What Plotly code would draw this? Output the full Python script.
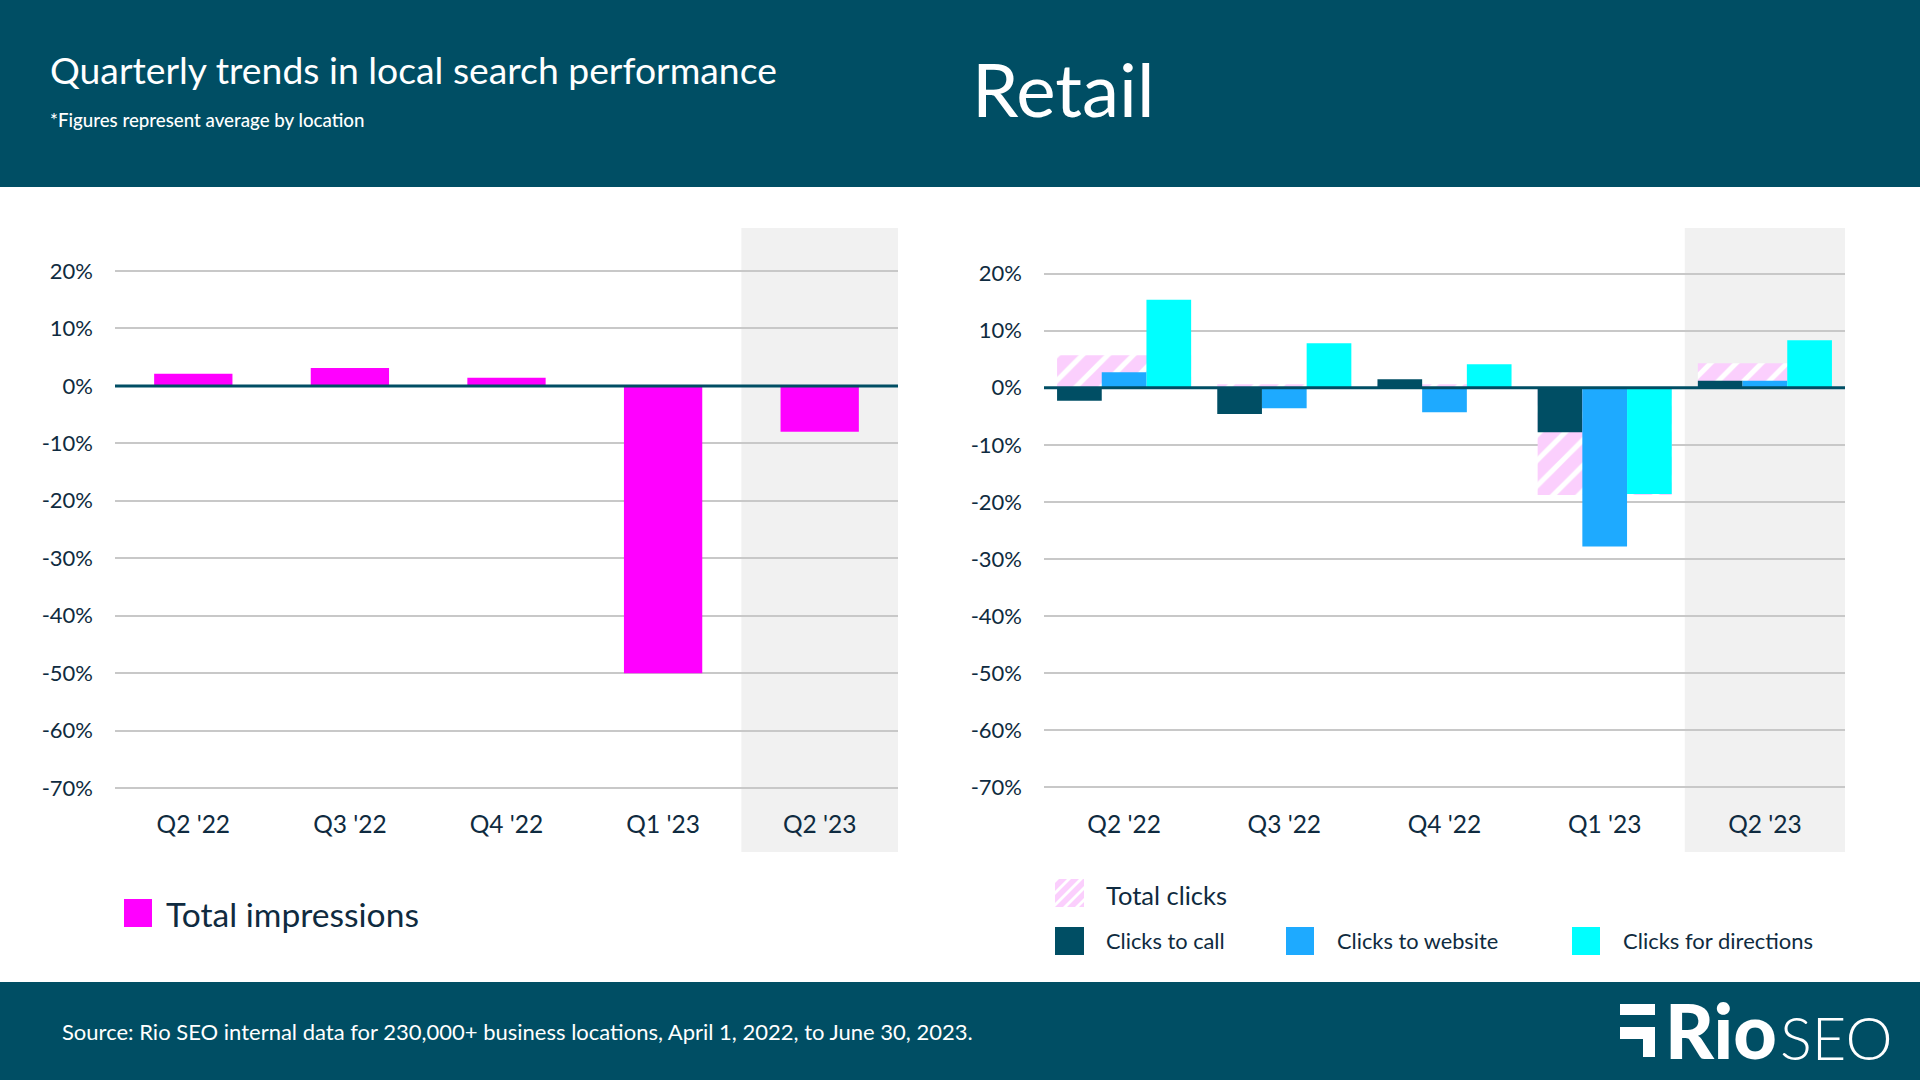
import plotly.graph_objects as go

quarters = ["Q2 '22", "Q3 '22", "Q4 '22", "Q1 '23", "Q2 '23"]
total_impressions = [2.1, 3.1, 1.4, -50.0, -8.0]
total_clicks = [5.7, 0.6, 0.6, -18.8, 4.3]
clicks_to_call = [-2.3, -4.6, 1.5, -7.8, 1.2]
clicks_to_website = [2.7, -3.6, -4.3, -27.8, 1.2]
clicks_for_directions = [15.4, 7.8, 4.1, -18.6, 8.3]
y_ticks = [20, 10, 0, -10, -20, -30, -40, -50, -60, -70]
y_labels = ["20%", "10%", "0%", "-10%", "-20%", "-30%", "-40%", "-50%", "-60%", "-70%"]

TEAL = "#004E64"
BLUE = "#1EAAFF"
CYAN = "#00FFFF"
MAGENTA = "#FF00FF"
PINK = "#FBCFFD"
BAND = "#F1F1F1"
GRID = "#C8C8C8"
INK = "#0F2B40"
FONT = "Lato"
W, H = 1920, 1080


def px(x):
    return x / W


def py(y):
    return 1 - y / H


hatch = dict(shape="/", fgcolor=PINK, bgcolor="white", size=18, solidity=0.72, fillmode="replace")

fig = go.Figure()
fig.add_trace(go.Bar(x=quarters, y=total_impressions, name="Total impressions", width=0.5,
                     marker=dict(color=MAGENTA, line_width=0), xaxis="x", yaxis="y"))
fig.add_trace(go.Bar(x=quarters, y=total_clicks, name="Total clicks",
                     marker=dict(color="white", pattern=hatch, line_width=0), xaxis="x2", yaxis="y2"))
for name, vals, col in [("Clicks to call", clicks_to_call, TEAL),
                        ("Clicks to website", clicks_to_website, BLUE),
                        ("Clicks for directions", clicks_for_directions, CYAN)]:
    fig.add_trace(go.Bar(x=quarters, y=vals, name=name, marker=dict(color=col, line_width=0),
                         xaxis="x3", yaxis="y3"))

shapes = []


def rect(x0, y0, x1, y1, color, layer="below"):
    shapes.append(dict(type="rect", xref="paper", yref="paper", x0=px(x0), x1=px(x1), y0=py(y0), y1=py(y1),
                       fillcolor=color, line_width=0, layer=layer))


# header, footer, logo mark
rect(0, 0, W, 187, TEAL)
rect(0, 982, W, H, TEAL)
rect(1620, 1004, 1655, 1015, "white")
rect(1620, 1027, 1655, 1039, "white")
rect(1643, 1027, 1655, 1057, "white")

# shaded latest quarter
for xr in ("x", "x2"):
    shapes.append(dict(type="rect", xref=xr, yref="paper", x0=3.5, x1=4.5, y0=py(852), y1=py(228),
                       fillcolor=BAND, line_width=0, layer="below"))
# baselines on top of the bars
for xr, yr in (("x domain", "y"), ("x2 domain", "y2")):
    shapes.append(dict(type="line", xref=xr, yref=yr, x0=0, x1=1, y0=0, y1=0,
                       line=dict(color=TEAL, width=3), layer="above"))

# legend swatches
rect(124, 899, 152, 927, MAGENTA)
rect(1055, 927, 1084, 955, TEAL)
rect(1286, 927, 1314, 955, BLUE)
rect(1572, 927, 1600, 955, CYAN)


def clip(poly, inside, cross):
    out = []
    for i, p in enumerate(poly):
        q = poly[(i + 1) % len(poly)]
        if inside(p):
            out.append(p)
        if inside(p) != inside(q):
            out.append(cross(p, q))
    return out


def hatched_swatch(x0, y0, x1, y1, pitch=12.0, stripe=8.0):
    for k in range(-3, 4):
        base = x0 + k * pitch
        h = y1 - y0
        poly = [(base, y1), (base + stripe, y1), (base + stripe + h, y0), (base + h, y0)]
        poly = clip(poly, lambda p: p[0] >= x0, lambda p, q: (x0, p[1] + (q[1] - p[1]) * (x0 - p[0]) / (q[0] - p[0])))
        if poly:
            poly = clip(poly, lambda p: p[0] <= x1, lambda p, q: (x1, p[1] + (q[1] - p[1]) * (x1 - p[0]) / (q[0] - p[0])))
        if len(poly) >= 3:
            d = "M" + "L".join(f"{px(a):.5f},{py(b):.5f}" for a, b in poly) + "Z"
            shapes.append(dict(type="path", xref="paper", yref="paper", path=d, fillcolor=PINK, line_width=0, layer="below"))


hatched_swatch(1055, 879, 1084, 907)

annotations = []


def label(x, y, text, size, color=INK, weight=None, family=FONT):
    f = dict(family=family, size=size, color=color)
    if weight:
        f["weight"] = weight
    annotations.append(dict(xref="paper", yref="paper", x=px(x), y=py(y), text=text, showarrow=False,
                            xanchor="left", yanchor="middle", align="left", font=f, borderpad=0))


label(49, 69.5, "Quarterly trends in local search performance", 37.3, "white")
label(49, 120, "*Figures represent average by location", 18.7, "white", 500)
label(971, 88, "Retail", 74.5, "white")
label(61, 1031, "Source: Rio SEO internal data for 230,000+ business locations, April 1, 2022, to June 30, 2023.", 22, "white")
label(1664, 1029, "Rio", 75.5, "white", 900)
label(1779, 1037, "SEO", 59.5, "white", 300)
label(165, 914, "Total impressions", 33.6)
label(1105, 895, "Total clicks", 25.5)
label(1105, 940, "Clicks to call", 21.8)
label(1336, 940, "Clicks to website", 21.8)
label(1622, 940, "Clicks for directions", 22)

tick_font = dict(family=FONT, size=22, color=INK)
x_tick_font = dict(family=FONT, size=24.5, color=INK)
xbase = dict(type="category", categoryorder="array", categoryarray=quarters, range=[-0.5, 4.5], showgrid=False,
             zeroline=False, showline=False, ticks="outside", ticklen=3, tickcolor="rgba(0,0,0,0)",
             tickfont=x_tick_font, fixedrange=True)
ybase = dict(tickmode="array", tickvals=y_ticks, ticktext=y_labels, showgrid=True, gridcolor=GRID, gridwidth=2,
             zeroline=False, showline=False, ticks="", ticklabelstandoff=21, tickfont=tick_font, fixedrange=True)
ydom = [py(800), py(228)]
dom_l = [px(115), px(898)]
dom_r = [px(1044), px(1845)]

fig.update_layout(
    width=W, height=H, autosize=False,
    margin=dict(l=0, r=0, t=0, b=0),
    paper_bgcolor="white", plot_bgcolor="rgba(0,0,0,0)",
    showlegend=False, barmode="group", bargap=0.163, bargroupgap=0,
    font=dict(family=FONT, color=INK),
    shapes=shapes, annotations=annotations,
    xaxis=dict(xbase, domain=dom_l, anchor="y"),
    yaxis=dict(ybase, domain=ydom, anchor="x", range=[-72.08, 27.48]),
    xaxis2=dict(xbase, domain=dom_r, anchor="y2"),
    yaxis2=dict(ybase, domain=ydom, anchor="x2", range=[-72.2, 27.97]),
    xaxis3=dict(xbase, domain=dom_r, anchor="y3", overlaying="x2", visible=False),
    yaxis3=dict(domain=ydom, anchor="x3", overlaying="y2", range=[-72.2, 27.97], visible=False, fixedrange=True),
)

fig.write_html("out.html", config=dict(displayModeBar=False),
               post_script="document.body.style.margin='0';document.body.style.overflow='hidden';")
